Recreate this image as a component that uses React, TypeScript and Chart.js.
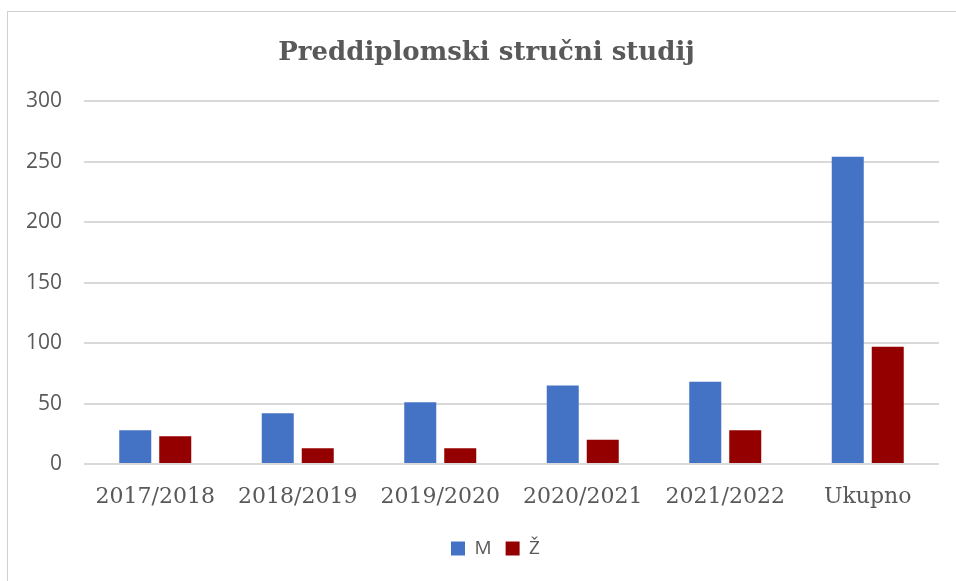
import React, { useEffect, useRef } from "react";
import { Chart, registerables } from "chart.js";

Chart.register(...registerables);

const categories = ["2017/2018", "2018/2019", "2019/2020", "2020/2021", "2021/2022", "Ukupno"];
const seriesM = [28, 42, 51, 65, 68, 254];
const seriesZ = [23, 13, 13, 20, 28, 97];
const seriesNames = ["M", "Ž"];
const chartTitle = "Preddiplomski stručni studij";
const yMin = 0;
const yMax = 300;
const yStep = 50;

const TEXT = "#595959";
const GRID = "#d9d9d9";

const boxShift = {
  id: "boxShift",
  afterLayout(chart: any) {
    if (chart.legend) chart.legend.left = 52;
    if (chart.titleBlock) chart.titleBlock.left = 34;
  },
};

export default function App() {
  const ref = useRef<HTMLCanvasElement | null>(null);

  useEffect(() => {
    if (!ref.current) return;
    const chart = new Chart(ref.current, {
      type: "bar",
      data: {
        labels: categories,
        datasets: [
          {
            label: seriesNames[0],
            data: seriesM,
            backgroundColor: "#4472C4",
            categoryPercentage: 0.5614,
            barPercentage: 0.8,
          },
          {
            label: seriesNames[1],
            data: seriesZ,
            backgroundColor: "#940000",
            categoryPercentage: 0.5614,
            barPercentage: 0.8,
          },
        ],
      },
      options: {
        animation: false,
        responsive: false,
        maintainAspectRatio: false,
        devicePixelRatio: 1,
        layout: { padding: { left: 0, right: 17, top: 0, bottom: 13 } },
        plugins: {
          title: {
            display: true,
            text: chartTitle,
            color: TEXT,
            font: { family: "'DejaVu Serif', serif", size: 26, weight: "bold", lineHeight: 1.2 },
            padding: { top: 38, bottom: 32 },
          },
          legend: {
            display: true,
            position: "bottom",
            labels: {
              color: TEXT,
              boxWidth: 14,
              boxHeight: 14,
              padding: 14,
              font: { family: "'Open Sans', sans-serif", size: 19 },
            },
          },
          tooltip: { enabled: false },
        },
        scales: {
          x: {
            grid: { display: false, drawTicks: false },
            border: { display: false },
            ticks: {
              color: TEXT,
              padding: 20,
              maxRotation: 0,
              autoSkip: false,
              font: { family: "'DejaVu Serif', serif", size: 22 },
            },
            afterFit: (scale: any) => {
              scale.height = 61;
            },
          },
          y: {
            min: yMin,
            max: yMax,
            ticks: {
              stepSize: yStep,
              color: TEXT,
              padding: 22,
              font: { family: "'Open Sans', sans-serif", size: 21 },
            },
            grid: { color: GRID, lineWidth: 2, drawTicks: false },
            border: { display: false },
            afterFit: (scale: any) => {
              scale.width = 84;
            },
          },
        },
      },
      plugins: [boxShift],
    });
    return () => chart.destroy();
  }, []);

  return (
    <div
      style={{
        position: "fixed",
        left: 0,
        top: 0,
        width: 956,
        height: 581,
        overflow: "hidden",
        background: "#ffffff",
      }}
    >
      <div
        style={{
          position: "absolute",
          left: 7,
          top: 11,
          width: 1000,
          height: 700,
          borderLeft: "1px solid #d0d0d0",
          borderTop: "1px solid #d0d0d0",
        }}
      />
      <canvas
        ref={ref}
        width={956}
        height={581}
        style={{ position: "absolute", left: 0, top: 0, width: 956, height: 581 }}
      />
    </div>
  );
}
